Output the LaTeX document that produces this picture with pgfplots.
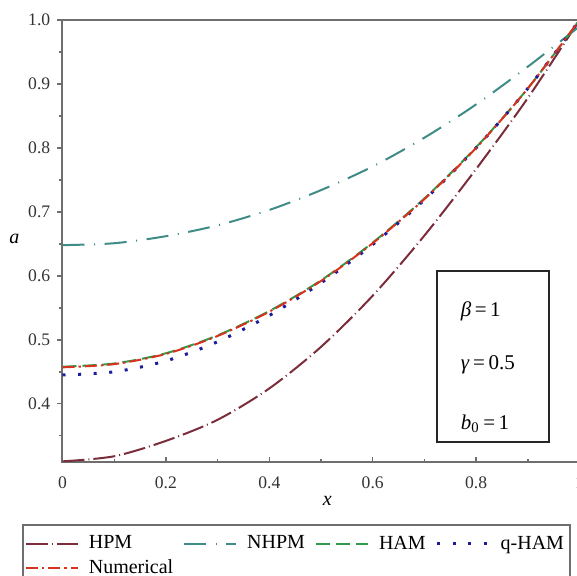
\documentclass[border=0pt]{standalone}
\usepackage{fontspec}
\setmainfont{Liberation Serif}
\usepackage{pgfplots}
\pgfplotsset{compat=1.18}

\definecolor{cHPM}{HTML}{7B2D3B}
\definecolor{cNHPM}{HTML}{3F8C87}
\definecolor{cHAM}{HTML}{2E9A4A}
\definecolor{cQ}{HTML}{1C1C9C}
\definecolor{cNum}{HTML}{D8321E}
\definecolor{cAx}{HTML}{6E6E6E}

\begin{document}
\begin{tikzpicture}
  \begin{axis}[
      scale only axis, width=258.5pt, height=221pt,
      xmin=0, xmax=1, ymin=0.309, ymax=1.0,
      xtick={0,0.2,0.4,0.6,0.8,1}, minor xtick={0.1,0.3,0.5,0.7,0.9},
      ytick={0.4,0.5,0.6,0.7,0.8,0.9,1.0},
      minor ytick={0.35,0.45,0.55,0.65,0.75,0.85,0.95},
      yticklabel style={/pgf/number format/fixed, /pgf/number format/fixed zerofill,
                        /pgf/number format/precision=1},
      xticklabel style={/pgf/number format/fixed, /pgf/number format/precision=1,
                        yshift=-4pt},
      /pgf/number format/assume math mode=true,
      ticklabel style={font=\fontsize{8.8}{10}\selectfont, text=black!80},
      xtick pos=bottom, ytick pos=left,
      xtick align=inside, ytick align=outside,
      major tick length=2.6pt, minor tick length=1.6pt,
      tick style={cAx, line width=0.7pt},
      axis line style={cAx, line width=1pt},
      xlabel={\textit{x}}, ylabel={\textit{a}},
      xlabel style={at={(axis description cs:0.512,-0.088)}, anchor=center,
                    font=\fontsize{10}{12}\selectfont},
      ylabel style={at={(axis description cs:-0.093,0.505)}, anchor=center, rotate=-90,
                    font=\fontsize{10}{12}\selectfont},
      legend style={at={(axis description cs:-0.0783,-0.1403)}, anchor=north west,
                    legend columns=4, font=\fontsize{10}{12}\selectfont,
                    draw=cAx, line width=0.8pt, inner xsep=1pt, inner ysep=3.5pt,
                    column sep=3pt, row sep=-0.2pt,
                    cells={anchor=west}},
      legend image code/.code={\draw[#1] (0pt,0pt) -- (26pt,0pt);},
      every axis plot/.append style={line width=1pt},
    ]
    \coordinate (bl) at (rel axis cs:0,0);

    % HPM
    \addplot[cHPM, smooth, dash pattern=on 11pt off 2pt on 0.5pt off 2pt]
      coordinates {(0,0.310) (0.1,0.318) (0.2,0.342) (0.3,0.375) (0.4,0.424)
                   (0.5,0.489) (0.6,0.569) (0.7,0.663) (0.8,0.767) (0.9,0.878) (1.0,1.0)};
    % NHPM
    \addplot[cNHPM, smooth, dash pattern=on 11pt off 4.8pt on 0.5pt off 4.8pt]
      coordinates {(0,0.648) (0.1,0.651) (0.2,0.662) (0.3,0.679) (0.4,0.703)
                   (0.5,0.734) (0.6,0.771) (0.7,0.816) (0.8,0.868) (0.9,0.927) (1.0,0.99)};
    % HAM
    \addplot[cHAM, smooth, dash pattern=on 7pt off 3pt]
      coordinates {(0,0.458) (0.1,0.463) (0.2,0.479) (0.3,0.507) (0.4,0.545)
                   (0.5,0.593) (0.6,0.652) (0.7,0.721) (0.8,0.801) (0.9,0.893) (1.0,1.0)};
    % q-HAM
    \addplot[cQ, smooth, line width=1.5pt, dash pattern=on 1.5pt off 6.3pt]
      coordinates {(0,0.445) (0.1,0.450) (0.2,0.467) (0.3,0.497) (0.4,0.538)
                   (0.5,0.589) (0.6,0.649) (0.7,0.719) (0.8,0.800) (0.9,0.893) (1.0,1.0)};
    % Numerical
    \addplot[cNum, smooth, dash pattern=on 6pt off 2pt on 1.2pt off 2pt]
      coordinates {(0,0.457) (0.1,0.462) (0.2,0.478) (0.3,0.506) (0.4,0.544)
                   (0.5,0.592) (0.6,0.651) (0.7,0.720) (0.8,0.800) (0.9,0.893) (1.0,1.0)};
    \legend{HPM, NHPM, HAM, q-HAM, Numerical}

    \draw[black!85, line width=0.7pt] (rel axis cs:0.724,0.045) rectangle (rel axis cs:0.941,0.432);
    \node[anchor=base west, font=\fontsize{10.5}{12}\selectfont] at (rel axis cs:0.757,0.330)
      {\textit{β}\,=\,1};
    \node[anchor=base west, font=\fontsize{10.5}{12}\selectfont] at (rel axis cs:0.757,0.210)
      {\textit{γ}\,=\,0.5};
    \node[anchor=base west, font=\fontsize{10.5}{12}\selectfont] at (rel axis cs:0.757,0.074)
      {\textit{b}\textsubscript{0}\,=\,1};
  \end{axis}
  \pgfresetboundingbox
  \path[use as bounding box] ([shift={(-31.25pt,-57pt)}]bl) rectangle ([shift={(257.25pt,231pt)}]bl);
\end{tikzpicture}
\end{document}
